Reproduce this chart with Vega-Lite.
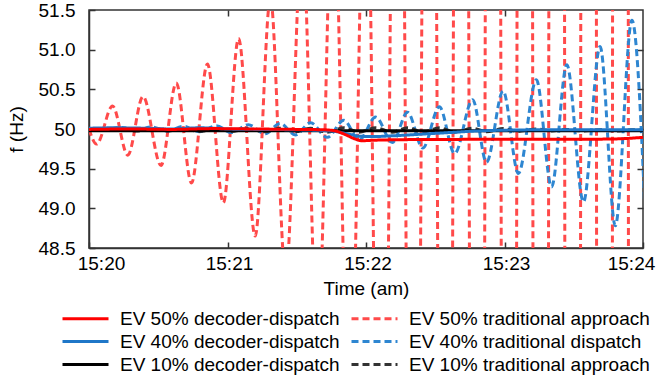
{
  "$schema": "https://vega.github.io/schema/vega-lite/v6.json",
  "autosize": {"type": "none"},
  "padding": {"left": 89, "top": 10, "right": 14, "bottom": 135},
  "width": 554,
  "height": 238,
  "datasets": {
    "r50d": [
      {"t": 0, "v": 49.995}, {"t": 0.3, "v": 50.0}, {"t": 0.6, "v": 49.995}, {"t": 0.9, "v": 50.005}, {"t": 1.2, "v": 50.0}, {"t": 1.5, "v": 49.995}, {"t": 1.7, "v": 49.99}, {"t": 1.78, "v": 49.975}, {"t": 1.85, "v": 49.93}, {"t": 1.92, "v": 49.875}, {"t": 1.97, "v": 49.852}, {"t": 2.05, "v": 49.858}, {"t": 2.2, "v": 49.864}, {"t": 2.5, "v": 49.868}, {"t": 3.0, "v": 49.87}, {"t": 3.5, "v": 49.87}, {"t": 3.8, "v": 49.875}, {"t": 4.0, "v": 49.895}
    ],
    "b40d": [
      {"t": 0, "v": 50.01}, {"t": 0.2, "v": 50.015}, {"t": 0.4, "v": 50.01}, {"t": 0.6, "v": 50.0}, {"t": 0.8, "v": 50.015}, {"t": 1.0, "v": 50.0}, {"t": 1.2, "v": 49.995}, {"t": 1.5, "v": 49.99}, {"t": 1.75, "v": 49.975}, {"t": 1.85, "v": 49.945}, {"t": 1.95, "v": 49.91}, {"t": 2.05, "v": 49.905}, {"t": 2.2, "v": 49.915}, {"t": 2.4, "v": 49.935}, {"t": 2.6, "v": 49.955}, {"t": 2.8, "v": 49.975}, {"t": 3.0, "v": 49.985}, {"t": 3.3, "v": 49.99}, {"t": 3.6, "v": 49.99}, {"t": 4.0, "v": 49.99}
    ],
    "k10d": [
      {"t": 0, "v": 49.978}, {"t": 1, "v": 49.978}, {"t": 2, "v": 49.978}, {"t": 3, "v": 49.978}, {"t": 4, "v": 49.978}
    ],
    "r50t": [
      {"t": 0, "v": 50.0}, {"t": 0.055, "v": 49.81}, {"t": 0.17, "v": 50.29}, {"t": 0.28, "v": 49.67}, {"t": 0.39, "v": 50.41}, {"t": 0.52, "v": 49.54}, {"t": 0.63, "v": 50.58}, {"t": 0.74, "v": 49.32}, {"t": 0.855, "v": 50.82}, {"t": 0.97, "v": 49.07}, {"t": 1.08, "v": 51.14}, {"t": 1.2, "v": 48.65}, {"t": 1.31, "v": 51.65}, {"t": 1.42, "v": 48.15}, {"t": 1.54, "v": 52.4}, {"t": 1.65, "v": 47.3}, {"t": 1.765, "v": 53.2}, {"t": 1.88, "v": 46.0}, {"t": 2.0, "v": 54.0}, {"t": 2.115, "v": 42.0}, {"t": 2.23, "v": 59.6}, {"t": 2.345, "v": 38.5}, {"t": 2.46, "v": 64}, {"t": 2.575, "v": 33}, {"t": 2.69, "v": 71}, {"t": 2.805, "v": 25}, {"t": 2.92, "v": 80}, {"t": 3.035, "v": 15}, {"t": 3.15, "v": 92}, {"t": 3.265, "v": 0}, {"t": 3.38, "v": 110}, {"t": 3.495, "v": -20}, {"t": 3.61, "v": 130}, {"t": 3.725, "v": -45}, {"t": 3.84, "v": 160}, {"t": 3.955, "v": -80}, {"t": 4.07, "v": 200}
    ],
    "b40t": [
      {"t": 0, "v": 50.0}, {"t": 0.11, "v": 49.985}, {"t": 0.22, "v": 50.02}, {"t": 0.34, "v": 49.98}, {"t": 0.45, "v": 50.025}, {"t": 0.57, "v": 49.975}, {"t": 0.68, "v": 50.035}, {"t": 0.8, "v": 49.965}, {"t": 0.92, "v": 50.04}, {"t": 1.03, "v": 49.955}, {"t": 1.15, "v": 50.055}, {"t": 1.27, "v": 49.94}, {"t": 1.38, "v": 50.07}, {"t": 1.49, "v": 49.925}, {"t": 1.6, "v": 50.08}, {"t": 1.72, "v": 49.895}, {"t": 1.84, "v": 50.11}, {"t": 1.95, "v": 49.86}, {"t": 2.07, "v": 50.15}, {"t": 2.19, "v": 49.83}, {"t": 2.3, "v": 50.21}, {"t": 2.41, "v": 49.76}, {"t": 2.53, "v": 50.28}, {"t": 2.64, "v": 49.69}, {"t": 2.77, "v": 50.37}, {"t": 2.87, "v": 49.58}, {"t": 2.99, "v": 50.48}, {"t": 3.1, "v": 49.44}, {"t": 3.23, "v": 50.62}, {"t": 3.34, "v": 49.27}, {"t": 3.45, "v": 50.81}, {"t": 3.57, "v": 49.08}, {"t": 3.69, "v": 51.04}, {"t": 3.8, "v": 48.78}, {"t": 3.92, "v": 51.37}, {"t": 4.03, "v": 48.3}
    ],
    "k10t": [
      {"t": 0, "v": 49.98}, {"t": 0.22, "v": 50.0}, {"t": 0.34, "v": 49.975}, {"t": 0.45, "v": 50.0}, {"t": 0.57, "v": 49.975}, {"t": 0.68, "v": 50.0}, {"t": 0.8, "v": 49.97}, {"t": 0.92, "v": 50.005}, {"t": 1.03, "v": 49.97}, {"t": 1.15, "v": 50.005}, {"t": 1.27, "v": 49.965}, {"t": 1.38, "v": 50.01}, {"t": 1.49, "v": 49.965}, {"t": 1.6, "v": 50.01}, {"t": 1.72, "v": 49.96}, {"t": 1.84, "v": 50.015}, {"t": 1.95, "v": 49.96}, {"t": 2.07, "v": 50.015}, {"t": 2.19, "v": 49.96}, {"t": 2.3, "v": 50.015}, {"t": 2.41, "v": 49.96}, {"t": 2.53, "v": 50.015}, {"t": 2.64, "v": 49.96}, {"t": 2.77, "v": 50.01}, {"t": 2.87, "v": 49.965}, {"t": 2.99, "v": 50.005}, {"t": 3.1, "v": 49.97}, {"t": 3.23, "v": 50.0}, {"t": 3.34, "v": 49.975}, {"t": 3.45, "v": 49.995}, {"t": 3.57, "v": 49.975}, {"t": 3.69, "v": 49.99}, {"t": 3.8, "v": 49.975}, {"t": 3.92, "v": 49.99}, {"t": 4.0, "v": 49.98}
    ]
  },
  "data": {"values": []},
  "layer": [
    {
      "data": {"name": "r50t"},
      "transform": [{"calculate": "'EV 50% traditional approach'", "as": "s"}],
      "mark": {"type": "line", "clip": true, "interpolate": "monotone"},
      "encoding": {
        "x": {"field": "t", "type": "quantitative", "scale": {"domain": [0, 4], "nice": false, "zero": false},
          "axis": {"orient": "bottom", "values": [0, 1, 2, 3, 4], "labelExpr": "'15:2' + datum.value", "labelPadding": 12, "labelFlush": false, "labelOffset": {"condition": [{"test": "datum.value == 0", "value": 12}, {"test": "datum.value == 4", "value": -12}], "value": 1.5}, "title": "Time (am)", "titlePadding": 6}},
        "y": {"field": "v", "type": "quantitative", "scale": {"domain": [48.5, 51.5], "nice": false, "zero": false},
          "axis": {"orient": "left", "values": [48.5, 49, 49.5, 50, 50.5, 51, 51.5], "labelExpr": "datum.value == 50 ? '50' : format(datum.value, '.1f')", "labelPadding": 20, "labelFlush": false, "title": "f (Hz)", "titlePadding": 12}},
        "color": {"field": "s", "type": "nominal", "scale": {"domain": ["EV 50% decoder-dispatch", "EV 40% decoder-dispatch", "EV 10% decoder-dispatch", "EV 50% traditional approach", "EV 40% traditional dispatch", "EV 10% traditional approach"], "range": ["#ff0000", "#1f77c8", "#000000", "#ff4a4a", "#2e86d1", "#333333"]}},
        "strokeDash": {"field": "s", "type": "nominal", "scale": {"domain": ["EV 50% decoder-dispatch", "EV 40% decoder-dispatch", "EV 10% decoder-dispatch", "EV 50% traditional approach", "EV 40% traditional dispatch", "EV 10% traditional approach"], "range": [[1, 0], [1, 0], [1, 0], [7, 4], [7, 4], [7, 4]]}},
        "strokeWidth": {"field": "s", "type": "nominal", "scale": {"domain": ["EV 50% decoder-dispatch", "EV 40% decoder-dispatch", "EV 10% decoder-dispatch", "EV 50% traditional approach", "EV 40% traditional dispatch", "EV 10% traditional approach"], "range": [3, 3, 3, 1.3, 1.3, 1.5]}}
      }
    },
    {
      "data": {"name": "b40t"},
      "transform": [{"calculate": "'EV 40% traditional dispatch'", "as": "s"}],
      "mark": {"type": "line", "clip": true, "interpolate": "monotone"},
      "encoding": {
        "x": {"field": "t", "type": "quantitative", "axis": null},
        "y": {"field": "v", "type": "quantitative", "axis": null},
        "color": {"field": "s", "type": "nominal"},
        "strokeDash": {"field": "s", "type": "nominal"},
        "strokeWidth": {"field": "s", "type": "nominal"}
      }
    },
    {
      "data": {"name": "k10t"},
      "transform": [{"calculate": "'EV 10% traditional approach'", "as": "s"}],
      "mark": {"type": "line", "clip": true, "interpolate": "monotone"},
      "encoding": {
        "x": {"field": "t", "type": "quantitative", "axis": null},
        "y": {"field": "v", "type": "quantitative", "axis": null},
        "color": {"field": "s", "type": "nominal"},
        "strokeDash": {"field": "s", "type": "nominal"},
        "strokeWidth": {"field": "s", "type": "nominal"}
      }
    },
    {
      "data": {"name": "k10d"},
      "transform": [{"calculate": "'EV 10% decoder-dispatch'", "as": "s"}],
      "mark": {"type": "line", "clip": true, "interpolate": "monotone"},
      "encoding": {
        "x": {"field": "t", "type": "quantitative", "axis": null},
        "y": {"field": "v", "type": "quantitative", "axis": null},
        "color": {"field": "s", "type": "nominal"},
        "strokeDash": {"field": "s", "type": "nominal"},
        "strokeWidth": {"field": "s", "type": "nominal"}
      }
    },
    {
      "data": {"name": "b40d"},
      "transform": [{"calculate": "'EV 40% decoder-dispatch'", "as": "s"}],
      "mark": {"type": "line", "clip": true, "interpolate": "monotone"},
      "encoding": {
        "x": {"field": "t", "type": "quantitative", "axis": null},
        "y": {"field": "v", "type": "quantitative", "axis": null},
        "color": {"field": "s", "type": "nominal"},
        "strokeDash": {"field": "s", "type": "nominal"},
        "strokeWidth": {"field": "s", "type": "nominal"}
      }
    },
    {
      "data": {"name": "r50d"},
      "transform": [{"calculate": "'EV 50% decoder-dispatch'", "as": "s"}],
      "mark": {"type": "line", "clip": true, "interpolate": "monotone"},
      "encoding": {
        "x": {"field": "t", "type": "quantitative", "axis": {"orient": "top", "values": [1, 2, 3], "labels": false, "domain": false, "title": null}},
        "y": {"field": "v", "type": "quantitative", "axis": {"orient": "right", "values": [49, 49.5, 50, 50.5, 51], "labels": false, "domain": false, "title": null}},
        "color": {"field": "s", "type": "nominal"},
        "strokeDash": {"field": "s", "type": "nominal"},
        "strokeWidth": {"field": "s", "type": "nominal"}
      }
    }
  ],
  "resolve": {"axis": {"x": "independent", "y": "independent"}},
  "config": {
    "font": "Liberation Sans",
    "view": {"stroke": "#333333", "strokeWidth": 1.5},
    "axis": {"labelFont": "Liberation Sans", "labelFontSize": 19, "labelColor": "#000000", "titleFont": "Liberation Sans", "titleFontSize": 19, "titleFontWeight": "normal", "titleColor": "#000000", "domainColor": "#333333", "domainWidth": 1.5, "tickColor": "#333333", "tickWidth": 1.5, "tickSize": -6, "grid": false},
    "legend": {"orient": "none", "legendX": -15, "legendY": 297, "columns": 2, "columnPadding": 5, "rowPadding": 1, "labelFont": "Liberation Sans", "labelFontSize": 19, "labelColor": "#000000", "labelOffset": 23, "symbolType": "M-2.3,0H2.3", "symbolSize": 400, "title": null, "labelLimit": 400}
  }
}
